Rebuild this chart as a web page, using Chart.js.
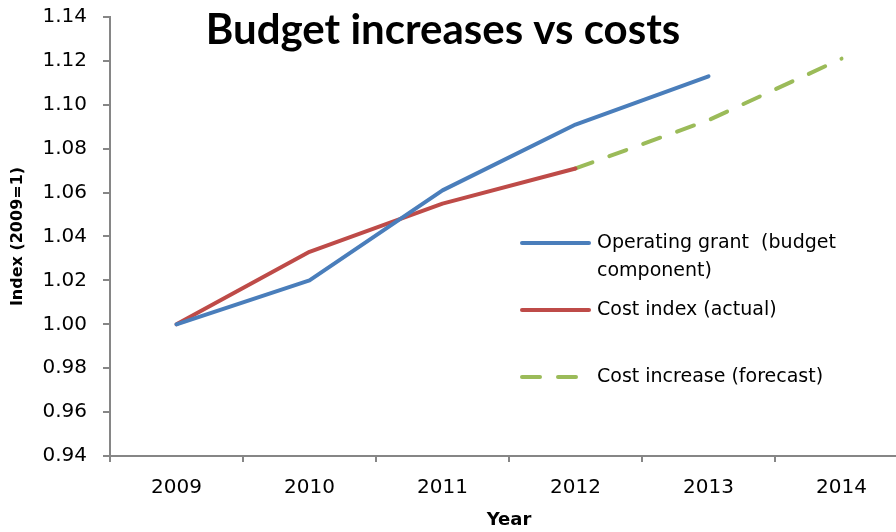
<!DOCTYPE html>
<html>
<head>
<meta charset="utf-8">
<script src="https://cdn.jsdelivr.net/npm/chart.js@4/dist/chart.umd.min.js"></script>
<style>
  body { margin: 0; overflow: hidden; background: #fff; }
  #wrap { width: 920px; height: 532px; position: relative; }
</style>
</head>
<body>
<div id="wrap"><canvas id="chart"></canvas></div>
<script>
// Data
const years = ['2009', '2010', '2011', '2012', '2013', '2014'];
const operatingGrant = [1.00, 1.02, 1.061, 1.091, 1.113, null];
const costActual = [1.00, 1.033, 1.055, 1.071, null, null];
const costForecast = [null, null, null, 1.071, 1.093, 1.121];

const axisGray = '#868686';

// Title drawn over the plot, like the original
const titlePlugin = {
  id: 'bigTitle',
  afterDraw(chart) {
    const ctx = chart.ctx;
    ctx.save();
    ctx.font = 'bold 42px Lato, "Open Sans", sans-serif';
    ctx.fillStyle = '#000';
    ctx.textAlign = 'center';
    ctx.textBaseline = 'alphabetic';
    ctx.fillText('Budget increases vs costs', 443, 44);
    ctx.restore();
  }
};

// Legend placed inside the plot area
const legendPlugin = {
  id: 'insideLegend',
  afterDraw(chart) {
    const ctx = chart.ctx;
    const rows = [
      { ds: 0, y: 243, lines: ['Operating grant  (budget', 'component)'] },
      { ds: 1, y: 310, lines: ['Cost index (actual)'] },
      { ds: 2, y: 377, lines: ['Cost increase (forecast)'] }
    ];
    ctx.save();
    rows.forEach(r => {
      const ds = chart.data.datasets[r.ds];
      ctx.beginPath();
      ctx.strokeStyle = ds.borderColor;
      ctx.lineWidth = 4;
      ctx.lineCap = 'round';
      ctx.setLineDash(ds.borderDash || []);
      ctx.moveTo(522, r.y);
      ctx.lineTo(589, r.y);
      ctx.stroke();
      ctx.setLineDash([]);
      ctx.font = '19px "DejaVu Sans", sans-serif';
      ctx.fillStyle = '#000';
      ctx.textAlign = 'left';
      ctx.textBaseline = 'middle';
      r.lines.forEach((t, i) => ctx.fillText(t, 597, r.y + i * 28));
    });
    ctx.restore();
  }
};

new Chart(document.getElementById('chart'), {
  type: 'line',
  data: {
    labels: years,
    datasets: [
      {
        label: 'Operating grant (budget component)',
        data: operatingGrant,
        borderColor: '#4A7EBB',
        borderWidth: 4,
        pointRadius: 0,
        borderCapStyle: 'round',
        borderJoinStyle: 'round'
      },
      {
        label: 'Cost index (actual)',
        data: costActual,
        borderColor: '#BE4B48',
        borderWidth: 4,
        pointRadius: 0,
        borderCapStyle: 'round',
        borderJoinStyle: 'round'
      },
      {
        label: 'Cost increase (forecast)',
        data: costForecast,
        borderColor: '#9BBB59',
        borderWidth: 4,
        borderDash: [18, 18],
        pointRadius: 0,
        borderCapStyle: 'round',
        borderJoinStyle: 'round'
      }
    ]
  },
  options: {
    responsive: true,
    maintainAspectRatio: false,
    animation: false,
    layout: { padding: { top: 17, right: 12, left: 0, bottom: 0 } },
    plugins: {
      legend: { display: false },
      title: { display: false },
      tooltip: { enabled: false }
    },
    scales: {
      x: {
        offset: true,
        grid: {
          offset: true,
          drawOnChartArea: false,
          color: axisGray,
          tickLength: 6,
          lineWidth: 2
        },
        border: { color: axisGray, width: 2 },
        ticks: {
          color: '#000',
          padding: 14,
          font: { family: '"DejaVu Sans", sans-serif', size: 20 }
        },
        title: {
          display: true,
          text: 'Year',
          color: '#000',
          padding: { top: 0, bottom: 1 },
          font: { family: '"DejaVu Sans", sans-serif', size: 18, weight: 'bold' }
        },
        afterFit(scale) {
          scale.height = 76;
          scale.paddingLeft = 0;
          scale.paddingRight = 0;
        }
      },
      y: {
        min: 0.94,
        max: 1.14,
        grid: {
          drawOnChartArea: false,
          color: axisGray,
          tickLength: 7,
          lineWidth: 2
        },
        border: { color: axisGray, width: 2 },
        ticks: {
          stepSize: 0.02,
          color: '#000',
          padding: 16,
          font: { family: '"DejaVu Sans", sans-serif', size: 20 },
          callback: v => Number(v).toFixed(2)
        },
        title: {
          display: true,
          text: 'Index (2009=1)',
          color: '#000',
          padding: { top: 8, bottom: 0 },
          font: { family: '"DejaVu Sans", sans-serif', size: 16, weight: 'bold' }
        },
        afterFit(scale) {
          scale.width = 110;
          scale.paddingTop = 0;
          scale.paddingBottom = 0;
        }
      }
    }
  },
  plugins: [titlePlugin, legendPlugin]
});
</script>
</body>
</html>
